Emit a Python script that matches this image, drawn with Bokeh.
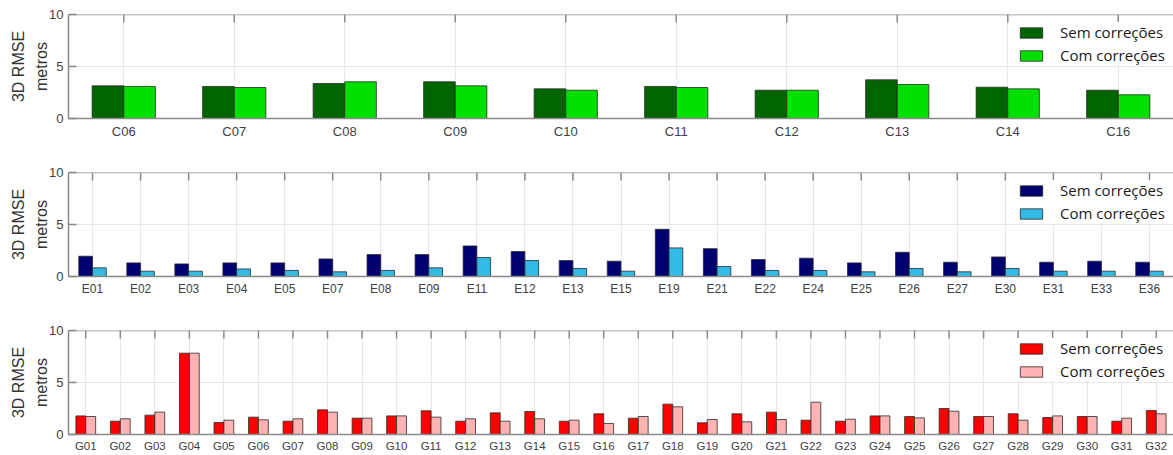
import numpy as np
from bokeh.plotting import figure
from bokeh.models import (Range1d, FixedTicker, Legend, LegendItem, Span,
                          ColumnDataSource)
from bokeh.layouts import column
from bokeh.transform import dodge
from bokeh.embed import file_html
from bokeh.resources import INLINE

# ---------------- data ----------------
c_labels = ["C06", "C07", "C08", "C09", "C10", "C11", "C12", "C13", "C14", "C16"]
c_sem = [3.14, 3.08, 3.37, 3.53, 2.85, 3.08, 2.72, 3.72, 3.01, 2.72]
c_com = [3.08, 2.98, 3.53, 3.14, 2.72, 2.98, 2.72, 3.27, 2.85, 2.28]

e_labels = ["E01", "E02", "E03", "E04", "E05", "E07", "E08", "E09", "E11", "E12",
            "E13", "E15", "E19", "E21", "E22", "E24", "E25", "E26", "E27", "E30",
            "E31", "E33", "E36"]
e_sem = [1.95, 1.31, 1.21, 1.31, 1.31, 1.69, 2.11, 2.11, 2.94, 2.40,
         1.53, 1.47, 4.54, 2.68, 1.63, 1.76, 1.31, 2.33, 1.37, 1.88,
         1.37, 1.47, 1.37]
e_com = [0.83, 0.51, 0.51, 0.73, 0.58, 0.45, 0.58, 0.83, 1.82, 1.53,
         0.77, 0.51, 2.75, 0.96, 0.58, 0.58, 0.45, 0.77, 0.45, 0.77,
         0.51, 0.51, 0.51]

g_labels = ["G01", "G02", "G03", "G04", "G05", "G06", "G07", "G08", "G09", "G10",
            "G11", "G12", "G13", "G14", "G15", "G16", "G17", "G18", "G19", "G20",
            "G21", "G22", "G23", "G24", "G25", "G26", "G27", "G28", "G29", "G30",
            "G31", "G32"]
g_sem = [1.79, 1.28, 1.86, 7.82, 1.15, 1.67, 1.28, 2.37, 1.57, 1.79,
         2.28, 1.28, 2.08, 2.21, 1.28, 1.99, 1.57, 2.92, 1.12, 1.99,
         2.15, 1.38, 1.28, 1.79, 1.73, 2.50, 1.73, 1.99, 1.63, 1.73,
         1.28, 2.31]
g_com = [1.73, 1.51, 2.15, 7.82, 1.38, 1.41, 1.51, 2.15, 1.57, 1.79,
         1.67, 1.51, 1.28, 1.51, 1.38, 1.06, 1.73, 2.66, 1.44, 1.22,
         1.44, 3.11, 1.47, 1.79, 1.60, 2.24, 1.73, 1.38, 1.79, 1.73,
         1.57, 1.99]

series_names = ["Sem correções", "Com correções"]
y_ticks = [0, 5, 10]
y_label = "3D RMSE\nmetros"

AXIS_COL = "#8a8a8a"
GRID_COL = "#e8e8e8"
TICK_TXT = "#404040"
FONT = "Liberation Sans"
BAR_W = 0.286
FRAME_H = 104
TICK_PX = 8
LEFT = 68


def panel(labels, sem, com, col_sem, col_com, top, bottom, xfs):
    n = len(labels)
    idx = list(range(1, n + 1))
    y_max = y_ticks[-1]
    src = ColumnDataSource(dict(x=idx, sem=sem, com=com))
    p = figure(width=1173, height=top + FRAME_H + bottom, output_backend="svg",
               toolbar_location=None, tools="",
               x_range=Range1d(0.5, n + 0.5), y_range=Range1d(0, y_max),
               min_border_left=LEFT, min_border_right=0, min_border_top=top,
               min_border_bottom=bottom)
    p.outline_line_color = None
    p.background_fill_color = "white"

    p.xgrid.grid_line_color = GRID_COL
    p.ygrid.grid_line_color = GRID_COL

    # top box line with inward ticks (MATLAB style)
    tick_len = TICK_PX * y_max / FRAME_H
    p.segment(x0=idx, x1=idx, y0=[y_max] * n, y1=[y_max - tick_len] * n,
              line_color=AXIS_COL, line_width=1.5)
    p.add_layout(Span(location=y_max, dimension="width", line_color=AXIS_COL,
                      line_width=1.5))

    r1 = p.vbar(x=dodge("x", -BAR_W / 2), top="sem", width=BAR_W, source=src,
                fill_color=col_sem, line_color="#2a2a2a", line_width=1, line_alpha=0.8)
    r2 = p.vbar(x=dodge("x", BAR_W / 2), top="com", width=BAR_W, source=src,
                fill_color=col_com, line_color="#2a2a2a", line_width=1, line_alpha=0.8)

    # x axis (bottom)
    xa = p.xaxis[0]
    xa.ticker = FixedTicker(ticks=idx)
    xa.major_label_overrides = {i: lab for i, lab in zip(idx, labels)}
    xa.major_tick_in = 0
    xa.major_tick_out = 0
    xa.minor_tick_in = 0
    xa.minor_tick_out = 0
    xa.axis_line_color = AXIS_COL
    xa.axis_line_width = 1.5
    xa.major_label_standoff = 5
    xa.major_label_text_font = FONT
    xa.major_label_text_font_size = f"{xfs}px"
    xa.major_label_text_color = TICK_TXT

    # y axis (left)
    ya = p.yaxis[0]
    ya.ticker = FixedTicker(ticks=y_ticks)
    ya.major_tick_in = TICK_PX
    ya.major_tick_out = 0
    ya.minor_tick_in = 0
    ya.minor_tick_out = 0
    ya.axis_line_color = AXIS_COL
    ya.axis_line_width = 1.5
    ya.major_tick_line_color = AXIS_COL
    ya.major_tick_line_width = 1.5
    ya.major_label_standoff = 5
    ya.major_label_text_font = FONT
    ya.major_label_text_font_size = "13px"
    ya.major_label_text_color = TICK_TXT
    ya.axis_label = y_label
    ya.axis_label_text_font = FONT
    ya.axis_label_text_font_size = "16px"
    ya.axis_label_text_font_style = "normal"
    ya.axis_label_text_color = "#333333"
    ya.axis_label_standoff = -4
    ya.axis_label_text_line_height = 1.35

    leg = Legend(items=[LegendItem(label=series_names[0], renderers=[r1]),
                        LegendItem(label=series_names[1], renderers=[r2])],
                 location=(949, 53))
    leg.label_text_font = "Open Sans"
    leg.label_text_font_size = "15px"
    leg.label_text_color = "#1a1a1a"
    leg.glyph_width = 28
    leg.glyph_height = 13
    leg.label_height = 20
    leg.label_standoff = 15
    leg.spacing = 3
    leg.padding = 4
    leg.margin = 0
    leg.border_line_color = None
    leg.background_fill_color = "white"
    leg.background_fill_alpha = 1.0
    p.add_layout(leg)
    return p


p1 = panel(c_labels, c_sem, c_com, "#006400", "#00e000", 14, 48, 13)
p2 = panel(e_labels, e_sem, e_com, "#000070", "#33bbe6", 6, 48, 12)
p3 = panel(g_labels, g_sem, g_com, "#ff0000", "#ffb3b3", 6, 21, 11.5)

layout = column(p1, p2, p3, spacing=0)
open("out.html", "w").write(file_html(layout, INLINE))
